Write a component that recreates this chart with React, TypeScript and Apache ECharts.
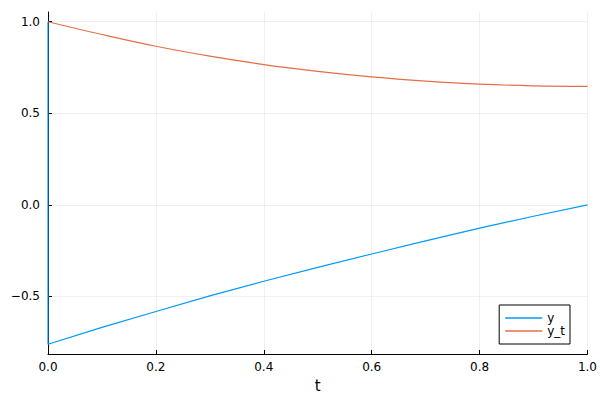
import React, { useEffect, useRef } from "react";
import * as echarts from "echarts";

const tValues = [0, 0.1, 0.2, 0.3, 0.4, 0.5, 0.6, 0.7, 0.8, 0.9, 1.0];
const yStart = 1.0;
const yValues = [-0.761, -0.669, -0.582, -0.497, -0.417, -0.341, -0.268, -0.196, -0.127, -0.062, 0.0];
const ytValues = [1.0, 0.93, 0.866, 0.812, 0.766, 0.729, 0.699, 0.676, 0.659, 0.65, 0.647];
const xTicks = [0, 0.2, 0.4, 0.6, 0.8, 1.0];
const yTicks = [-0.5, 0, 0.5, 1.0];
const seriesNames = ["y", "y_t"];

const FONT = "DejaVu Sans";

export default function App() {
  const ref = useRef<HTMLDivElement>(null);
  useEffect(() => {
    document.body.style.margin = "0";
    const chart = echarts.init(ref.current!, null, { renderer: "svg" });
    const fmt = (v: number) => v.toFixed(1).replace("-", "\u2212");
    const blueData: number[][] = [[tValues[0], yStart]].concat(
      tValues.map((t, i) => [t, yValues[i]])
    );
    const redData = tValues.map((t, i) => [t, ytValues[i]]);
    chart.setOption({
      animation: false,
      backgroundColor: "#ffffff",
      grid: { left: 48, right: 12, top: 12, bottom: 46, containLabel: false },
      legend: {
        orient: "vertical",
        right: 30,
        bottom: 56,
        padding: [7, 5, 7, 6],
        itemGap: 1,
        itemWidth: 37,
        itemHeight: 1.5,
        itemTextGap: 5,
        icon: "rect",
        borderColor: "#000000",
        borderWidth: 1,
        backgroundColor: "#ffffff",
        textStyle: { fontFamily: FONT, fontSize: 12, color: "#000", lineHeight: 12 },
        data: seriesNames,
      },
      xAxis: {
        type: "value",
        min: 0,
        max: 1,
        interval: 0.2,
        name: "t",
        nameLocation: "middle",
        nameGap: 24,
        nameTextStyle: { fontFamily: FONT, fontSize: 15, color: "#000" },
        axisLine: { show: true, onZero: false, lineStyle: { color: "#000", width: 1 } },
        axisTick: { show: true, inside: true, length: 4, lineStyle: { color: "#000" } },
        axisLabel: {
          fontFamily: FONT,
          fontSize: 12,
          color: "#000",
          margin: 7,
          formatter: fmt,
          customValues: xTicks,
        },
        splitLine: { show: true, lineStyle: { color: "rgba(0,0,0,0.06)", width: 1 } },
      },
      yAxis: {
        type: "value",
        min: -0.814,
        max: 1.053,
        axisLine: { show: true, onZero: false, lineStyle: { color: "#000", width: 1 } },
        axisTick: {
          show: true,
          inside: true,
          length: 4,
          lineStyle: { color: "#000" },
          customValues: yTicks,
        },
        axisLabel: {
          fontFamily: FONT,
          fontSize: 12,
          color: "#000",
          margin: 8,
          formatter: fmt,
          customValues: yTicks,
        },
        splitLine: { show: true, lineStyle: { color: "rgba(0,0,0,0.06)", width: 1 } },
      },
      series: [
        {
          name: seriesNames[0],
          type: "line",
          data: blueData,
          showSymbol: false,
          clip: false,
          color: "#009AFA",
          lineStyle: { color: "#009AFA", width: 1.2 },
        },
        {
          name: seriesNames[1],
          type: "line",
          data: redData,
          showSymbol: false,
          clip: false,
          smooth: 0.4,
          color: "#E36F47",
          lineStyle: { color: "#E36F47", width: 1.2 },
        },
      ],
    });
    return () => chart.dispose();
  }, []);
  return <div ref={ref} style={{ width: 600, height: 400 }} />;
}
